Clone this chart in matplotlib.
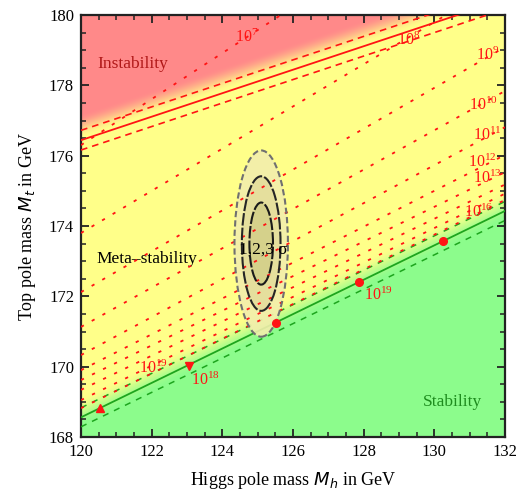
import numpy as np
import matplotlib
matplotlib.use('Agg')
import matplotlib.pyplot as plt
from matplotlib.patches import Ellipse

# ------------------------------------------------------------
# data
# ------------------------------------------------------------
mh_lim = [120, 132]
mt_lim = [168, 180]

# instability boundary (red): Mt at Mh=120, slope, band
inst_mt0, inst_slope, inst_band = 176.44, 0.334, 0.28
# stability boundary (green)
stab_mt0, stab_slope, stab_band = 168.56, 0.489, 0.27

# instability-scale contours: exponent, Mt at Mh=120, Mt at Mh=132
lam_exp = [7, 8, 9, 10, 11, 12, 13, 14, 15, 16]
lam_mt_left = [176.30, 173.80, 172.12, 171.13, 170.33, 169.90, 169.62,
               169.34, 169.05, 168.82]
lam_mt_right = [184.15, 181.00, 179.09, 177.84, 176.81, 176.02, 175.53,
                175.18, 174.92, 174.74]

# contour labels
lab_text = ['7', '8', '9', '10', '11', '12', '13', '16', '19', '18', '19']
lab_mh = [124.70, 129.26, 131.52, 131.38, 131.49, 131.35, 131.49, 131.24,
          128.41, 123.51, 122.04]
lab_mt = [179.37, 179.29, 178.86, 177.44, 176.59, 175.82, 175.36, 174.40,
          172.04, 169.62, 169.96]

# red markers on the stability line
dot_mh = [120.54, 123.06, 125.52, 127.88, 130.25]
dot_mt = [168.82, 170.02, 171.24, 172.40, 173.57]
dot_mk = ['^', 'v', 'o', 'o', 'o']

# experimental ellipse
exp_mh, exp_mt = 125.10, 173.50
sig_mh, sig_mt = 0.22, 0.77
chi2_levels = [11.83, 6.18, 2.30]   # 3, 2, 1 sigma (2 dof)

SERIF = 'Liberation Serif'
RED = '#ff1414'

fig = plt.figure(figsize=(5.2, 4.92), dpi=100)
ax = fig.add_axes([81/520, 55/492, 424/520, 422/492])

# ---- background gradient ----
MH, MT = np.meshgrid(np.linspace(*mh_lim, 500), np.linspace(*mt_lim, 500))
d_i = MT - (inst_mt0 + inst_slope*(MH - 120))
d_s = MT - (stab_mt0 + stab_slope*(MH - 120))

def smooth(t):
    t = np.clip(t, 0, 1)
    return t*t*(3 - 2*t)

green = np.array([0.55, 0.99, 0.55])
yellow = np.array([1.0, 1.0, 0.54])
red = np.array([1.0, 0.54, 0.54])
t_s = smooth((d_s + 0.25)/0.8)[..., None]
t_r = smooth((d_i - 0.05)/0.7)[..., None]
rgb = green*(1 - t_s) + yellow*t_s
rgb = rgb*(1 - t_r) + red*t_r
ax.imshow(rgb, origin='lower', extent=mh_lim + mt_lim, aspect='auto', zorder=0)

mh = np.array(mh_lim, dtype=float)

# ---- instability-scale contours (drawn over the ellipse fills) ----
for e, a, b in zip(lam_exp, lam_mt_left, lam_mt_right):
    ax.plot(mh, [a, b], color=RED, lw=1.3, ls=(0, (1.8, 5)), zorder=4.5)

# ---- boundaries ----
inst = inst_mt0 + inst_slope*(mh - 120)
ax.plot(mh, inst, color=RED, lw=1.3, zorder=3)
for s in (-1, 1):
    ax.plot(mh, inst + s*inst_band, color=RED, lw=1.2,
            ls=(0, (4, 3)), zorder=3)

stab = stab_mt0 + stab_slope*(mh - 120)
ax.plot(mh, stab, color='#1ea51e', lw=1.3, zorder=3)
for s in (-1, 1):
    ax.plot(mh, stab + s*stab_band, color='#1ea51e', lw=1.1,
            ls=(0, (4, 4)), zorder=3)

# ---- ellipses ----
fills = ['#f2eeac', '#e4de9c', '#d4d08a']
edges = ['#707070', '#262626', '#1a1a1a']
styles = [(0, (3, 1.5)), (0, (6, 1)), (0, (6, 1))]
for c2, fc in zip(chi2_levels, fills):
    k = np.sqrt(c2)
    ax.add_patch(Ellipse((exp_mh, exp_mt), 2*k*sig_mh, 2*k*sig_mt,
                         facecolor=fc, edgecolor='none', alpha=0.9, zorder=4))
for c2, ec, st in zip(chi2_levels, edges, styles):
    k = np.sqrt(c2)
    ax.add_patch(Ellipse((exp_mh, exp_mt), 2*k*sig_mh, 2*k*sig_mt,
                         facecolor='none', edgecolor=ec, lw=1.5,
                         ls=st, zorder=5))
ax.text(exp_mh + 0.05, exp_mt - 0.18, '1,2,3 σ', family=SERIF, fontsize=12.5,
        ha='center', va='center', zorder=6)

# ---- markers ----
for x, y, m in zip(dot_mh, dot_mt, dot_mk):
    ax.plot(x, y, marker=m, color=RED, ms=5.5, zorder=6)

# ---- contour labels ----
for t, x, y in zip(lab_text, lab_mh, lab_mt):
    ax.text(x, y, r'$\mathregular{10^{%s}}$' % t, color=RED,
            family=SERIF, fontsize=11.5, ha='center', va='center', zorder=6)

# ---- region labels ----
ax.text(120.45, 178.6, 'Instability', color='#b01818', family=SERIF,
        fontsize=12.5, ha='left', va='center')
ax.text(120.45, 173.05, 'Meta\u2013stability', color='black', family=SERIF,
        fontsize=12.5, ha='left', va='center')
ax.text(131.35, 169.0, 'Stability', color='#1e8c1e', family=SERIF,
        fontsize=12.5, ha='right', va='center')

ax.set_xlim(mh_lim)
ax.set_ylim(mt_lim)
ax.set_xticks(np.arange(120, 133, 2))
ax.set_yticks(np.arange(168, 181, 2))
ax.set_xticks(np.arange(120, 132.1, 0.5), minor=True)
ax.set_yticks(np.arange(168, 180.1, 0.5), minor=True)
ax.tick_params(which='both', direction='in', top=True, right=True,
               color='#222222')
ax.tick_params(which='major', length=6, width=1.3, labelsize=12, pad=5)
ax.tick_params(which='minor', length=3.5, width=1.1)
for lab in ax.get_xticklabels() + ax.get_yticklabels():
    lab.set_family(SERIF)
for sp in ax.spines.values():
    sp.set_linewidth(1.6)
    sp.set_color('#222222')

ax.set_xlabel(r'Higgs pole mass $M_h$ in GeV', family=SERIF, fontsize=13,
              labelpad=7)
ax.set_ylabel(r'Top pole mass $M_t$ in GeV', family=SERIF, fontsize=13,
              labelpad=8)

fig.savefig('out.png', dpi=100)
